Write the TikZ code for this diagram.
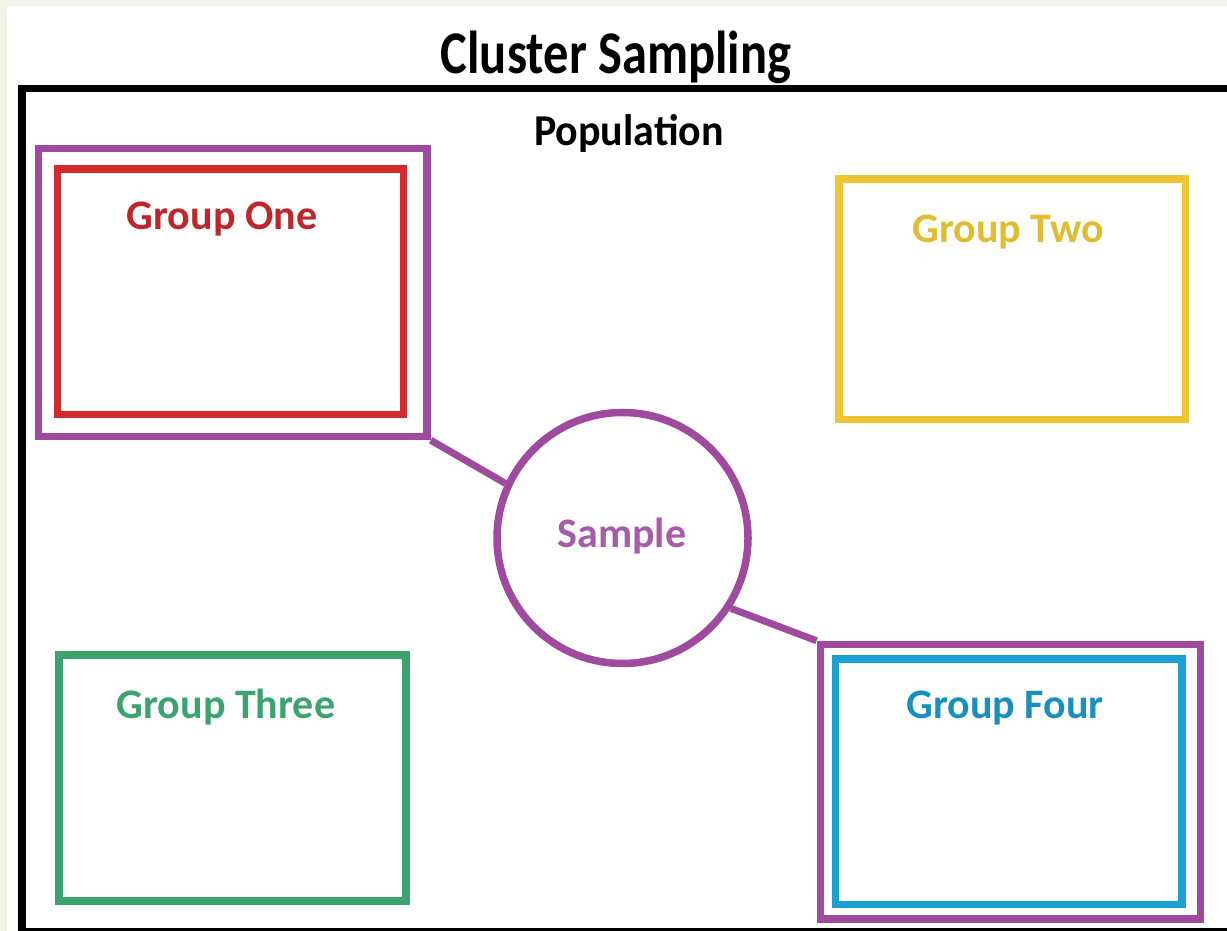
\documentclass[tikz,border=0pt]{standalone}
\usepackage{fontspec}
\setmainfont{Carlito}
\definecolor{cream}{HTML}{F2F4E8}
\definecolor{grpred}{HTML}{D42A2E}
\definecolor{grppurple}{HTML}{9D4A9F}
\definecolor{grpyellow}{HTML}{EEC633}
\definecolor{grpgreen}{HTML}{3BA46E}
\definecolor{grpblue}{HTML}{1BA0D4}
\tikzset{
  box/.style={draw,rectangle,inner sep=0pt,line width=7.5bp},
  lbl/.style={anchor=base,inner sep=0pt,font=\bfseries\fontsize{42bp}{50bp}\selectfont},
}
\begin{document}
\begin{tikzpicture}[line join=miter,]
%%
\useasboundingbox (0bp,0bp) rectangle (1227bp,931bp);
\fill [cream] (0bp,0bp) rectangle (1227bp,931bp);
\fill [white] (7bp,0bp) rectangle (1227bp,925bp);
\begin{scope}
  \clip (0bp,0bp) rectangle (1227bp,931bp);
  \draw [black,line width=7.5bp] (22bp,842.7bp) rectangle (1240bp,-0.8bp);
\end{scope}
%
\node (title) at (616bp,857.7bp) [lbl,font=\bfseries\fontsize{50.5bp}{60bp}\selectfont] {\scalebox{1}[1.2]{Cluster Sampling}};
\node (population) at (629bp,785bp) [lbl] {\scalebox{1}[1.05]{Population}};
%
\node (g1_outer) at (232.75bp,638.5bp) [box,draw=grppurple,minimum width=388.5bp,minimum height=288bp] {};
\node (g1) at (230.5bp,639.25bp) [box,draw=grpred,minimum width=345.7bp,minimum height=245.5bp] {};
\node (g2) at (1012.35bp,631.75bp) [box,draw=grpyellow,minimum width=346.3bp,minimum height=240.9bp] {};
\node (g3) at (232.5bp,153.1bp) [box,draw=grpgreen,minimum width=346.6bp,minimum height=245.8bp] {};
\node (g4_outer) at (1010.4bp,149.15bp) [box,draw=grppurple,minimum width=380.2bp,minimum height=274.7bp] {};
\node (g4) at (1008.85bp,149.35bp) [box,draw=grpblue,minimum width=346.7bp,minimum height=245.7bp] {};
\node (sample) at (622.5bp,393bp) [draw=grppurple,circle,line width=7.5bp,minimum size=251bp,inner sep=0pt] {};
%
\node (g1_text) at (222bp,701bp) [lbl,text=grpred!90!black] {Group One};
\node (g2_text) at (1008bp,688bp) [lbl,text=grpyellow!95!black] {Group Two};
\node (g3_text) at (226bp,212bp) [lbl,text=grpgreen] {Group Three};
\node (g4_text) at (1005bp,212.5bp) [lbl,text=grpblue!90!black] {Group Four};
\node (sample_text) at (622bp,383bp) [lbl,text=grppurple!90!white] {Sample};
%
\draw [grppurple,line width=7bp] (g1_outer.south east) -- (sample.155);
\draw [grppurple,line width=7bp] (sample.-33) -- (g4_outer.north west);
%
\end{tikzpicture}
\end{document}
